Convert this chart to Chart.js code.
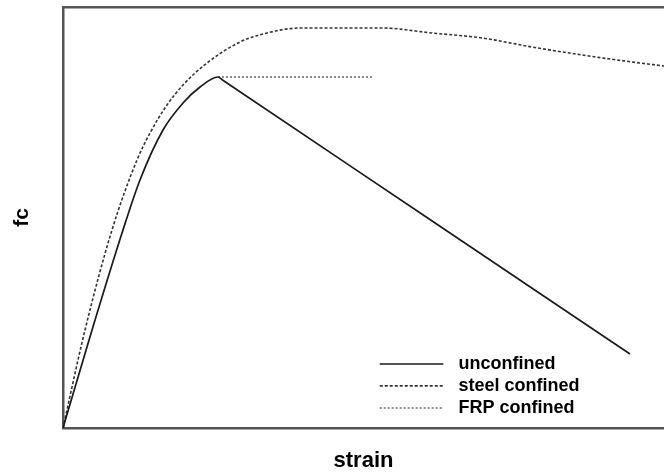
<!DOCTYPE html>
<html>
<head>
<meta charset="utf-8">
<script src="https://cdn.jsdelivr.net/npm/chart.js@4"></script>
<style>
html,body{margin:0;padding:0;background:#fff;overflow:hidden;}
#wrap{position:relative;width:664px;height:474px;}
</style>
</head>
<body>
<div id="wrap"><canvas id="c" width="664" height="474"></canvas></div>
<script>
// strain (0-100 relative) and fc (0-100 relative)
const unconfinedStrain = [0, 4.83, 9.82, 12.81, 16.64, 19.97, 22.80, 25.79, 26.6, 60, 94.34];
const unconfinedFc     = [0, 23.28, 46.32, 58.91, 70.78, 77.20, 81.00, 83.37, 82.59, 50.54, 17.58];

const steelStrain = [0, 3.66, 8.15, 12.31, 14.48, 17.30, 19.97, 23.96, 29.45, 33.94, 39.43, 44.76, 53.08, 61.40, 69.72, 78.04, 86.36, 94.68, 100];
const steelFc     = [0, 23.28, 47.03, 63.66, 70.07, 76.72, 81.47, 86.70, 91.69, 93.82, 95.01, 95.01, 95.01, 93.82, 92.64, 90.50, 88.60, 86.94, 85.99];

const frpStrain = [25.79, 51.58];
const frpFc     = [83.37, 83.37];

const seriesLabels = ['unconfined', 'steel confined', 'FRP confined'];
const xTitle = 'strain';
const yTitle = 'fc';

const pts = (xs, ys) => xs.map((x, i) => ({x, y: ys[i]}));

const legendPlugin = {
  id: 'insideLegend',
  afterDatasetsDraw(chart) {
    const ctx = chart.ctx;
    const xs = chart.scales.x, ys = chart.scales.y;
    const x0 = xs.getPixelForValue(52.7), x1 = xs.getPixelForValue(63.3), tx = xs.getPixelForValue(65.8);
    const rowsY = [15.2, 10.0, 4.75];
    ctx.save();
    chart.data.datasets.forEach((ds, i) => {
      const y = ys.getPixelForValue(rowsY[i]);
      ctx.beginPath();
      ctx.setLineDash(ds.borderDash || []);
      ctx.strokeStyle = ds.borderColor;
      ctx.lineWidth = ds.borderWidth;
      ctx.moveTo(x0, y); ctx.lineTo(x1, y);
      ctx.stroke();
      ctx.setLineDash([]);
      ctx.fillStyle = '#000';
      ctx.font = 'bold 18px "Liberation Sans", Arial, sans-serif';
      ctx.textBaseline = 'middle';
      ctx.fillText(ds.label, tx, y);
    });
    ctx.restore();
  }
};

new Chart(document.getElementById('c'), {
  type: 'line',
  data: {
    datasets: [
      {label: seriesLabels[0], data: pts(unconfinedStrain, unconfinedFc), borderColor: '#1a1a1a', borderWidth: 1.7, borderDash: [], pointRadius: 0, cubicInterpolationMode: 'monotone', fill: false},
      {label: seriesLabels[1], data: pts(steelStrain, steelFc), borderColor: '#333', borderWidth: 1.6, borderDash: [3, 2], pointRadius: 0, cubicInterpolationMode: 'monotone', fill: false},
      {label: seriesLabels[2], data: pts(frpStrain, frpFc), borderColor: '#666', borderWidth: 1.5, borderDash: [2, 2], pointRadius: 0, fill: false}
    ]
  },
  options: {
    responsive: false,
    animation: false,
    events: [],
    layout: {padding: 0},
    plugins: {legend: {display: false}, tooltip: {enabled: false}},
    scales: {
      x: {
        type: 'linear', min: 0, max: 100, position: 'bottom',
        ticks: {display: false},
        grid: {display: true, drawOnChartArea: false, drawTicks: false},
        border: {display: true, color: '#555', width: 2.5},
        title: {display: true, text: xTitle, color: '#000', font: {family: '"Liberation Sans", Arial, sans-serif', size: 22, weight: 'bold'}, padding: {top: 0, bottom: 0}},
        afterFit(s) { s.height = 46; }
      },
      xTop: {
        type: 'linear', min: 0, max: 100, position: 'top',
        ticks: {display: false},
        grid: {display: true, drawOnChartArea: false, drawTicks: false},
        border: {display: true, color: '#555', width: 2.5},
        afterFit(s) { s.height = 7; }
      },
      y: {
        type: 'linear', min: 0, max: 100,
        ticks: {display: false},
        grid: {display: true, drawOnChartArea: false, drawTicks: false},
        border: {display: true, color: '#555', width: 2.5},
        title: {display: true, text: yTitle, color: '#000', font: {family: '"Liberation Sans", Arial, sans-serif', size: 21, weight: 'bold'}, padding: {top: 10, bottom: 0}},
        afterFit(s) { s.width = 63; }
      }
    }
  },
  plugins: [legendPlugin]
});
</script>
</body>
</html>
